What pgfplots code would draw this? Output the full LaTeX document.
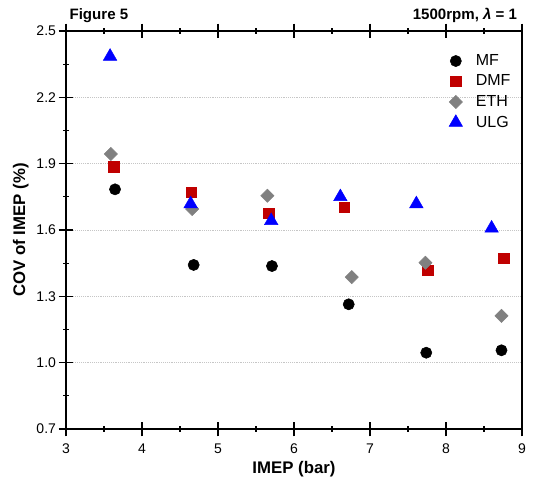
\documentclass[border=0pt]{standalone}
\usepackage{pgfplots}
\pgfplotsset{compat=1.18}
\usepackage{fontspec}
\setmainfont{Liberation Sans}
\definecolor{dmfred}{HTML}{C00000}
\definecolor{ethgray}{HTML}{808080}
\definecolor{ulgblue}{HTML}{0000FF}
\begin{document}
\begin{tikzpicture}
\begin{axis}[
  name=ax,
  scale only axis,
  width=342pt, height=298.5pt,
  xmin=3, xmax=9, ymin=0.7, ymax=2.5,
  xtick={3,4,5,6,7,8,9},
  ytick={0.7,1.0,1.3,1.6,1.9,2.2,2.5},
  minor x tick num=1, minor y tick num=1,
  xtick pos=both, ytick pos=left,
  tick align=center,
  major tick length=11pt, minor tick length=4pt,
  tick style={black, line width=0.9pt},
  axis line style={line width=1.2pt},
  yticklabel style={/pgf/number format/fixed, /pgf/number format/precision=1, /pgf/number format/fixed zerofill, xshift=1.5pt},
  xticklabel style={yshift=-2pt},
  /pgf/number format/assume math mode=true,
  ticklabel style={font=\fontsize{10.5}{12}\selectfont},
  ymajorgrids,
  grid style={densely dotted, gray!45, line width=0.6pt},
  xlabel={\textbf{IMEP (bar)}},
  ylabel={\textbf{COV of IMEP (\%)}},
  label style={font=\fontsize{12.6}{14}\selectfont},
  xlabel style={yshift=1pt},
  ylabel style={yshift=-1pt},
  legend style={draw=none, fill=none, at={(0.99,0.955)}, anchor=north east, font=\fontsize{12}{13}\selectfont, row sep=1.6pt},
  legend cell align=left,
  clip=false,
]
\addplot[only marks, mark=*, mark size=4.2pt, color=black] coordinates {
(3.645,1.784) (4.68,1.442) (5.71,1.437) (6.72,1.264) (7.74,1.045) (8.73,1.056)};
\addlegendentry{\hspace{8pt}MF}
\addplot[only marks, mark=square*, mark size=3.9pt, color=dmfred] coordinates {
(3.63,1.886) (4.65,1.770) (5.67,1.675) (6.66,1.704) (7.76,1.419) (8.76,1.472)};
\addlegendentry{\hspace{8pt}DMF}
\addplot[only marks, mark=square*, mark size=3.5pt, mark options={rotate=45}, color=ethgray] coordinates {
(3.59,1.944) (4.66,1.695) (5.65,1.755) (6.76,1.387) (7.73,1.452) (8.73,1.212)};
\addlegendentry{\hspace{8pt}ETH}
\addplot[only marks, mark=triangle*, mark size=5.8pt, color=ulgblue] coordinates {
(3.58,2.385) (4.64,1.718) (5.70,1.642) (6.61,1.750) (7.61,1.718) (8.60,1.608)};
\addlegendentry{\hspace{8pt}ULG}
\node[anchor=base west, font=\fontsize{11.3}{13}\selectfont\bfseries, inner sep=0pt] at ([xshift=2.5pt,yshift=8.5pt]rel axis cs:0,1) {Figure 5};
\node[anchor=base east, font=\fontsize{11.3}{13}\selectfont\bfseries, inner sep=0pt] at ([xshift=-3.5pt,yshift=8.5pt]rel axis cs:1,1) {1500rpm, \textit{λ} = 1};
\end{axis}
\pgfresetboundingbox
\path[use as bounding box] ([xshift=-49.5pt,yshift=-40.5pt]ax.south west) rectangle ([xshift=9pt,yshift=23.25pt]ax.north east);
\end{tikzpicture}
\end{document}
